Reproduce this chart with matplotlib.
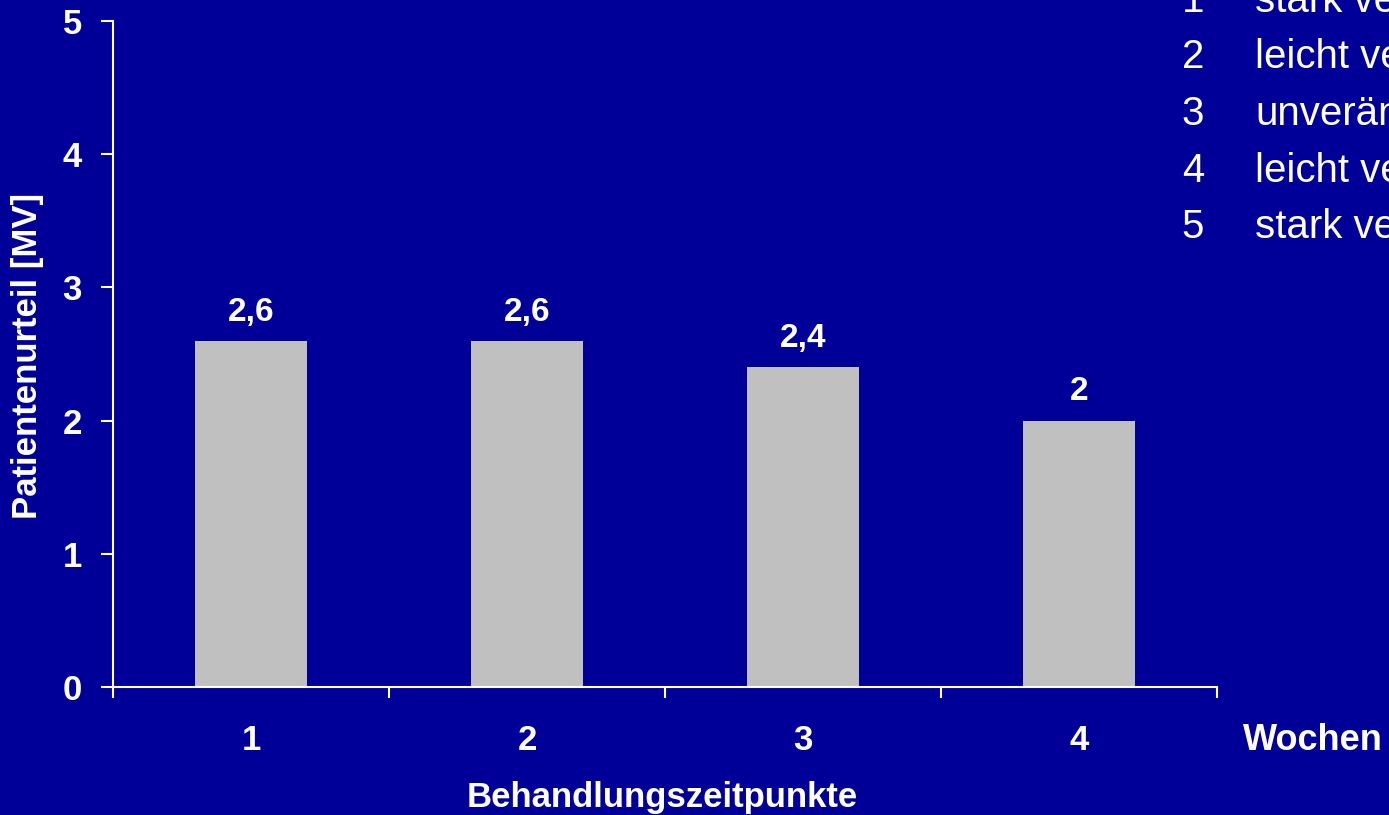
import matplotlib
matplotlib.use("Agg")
import matplotlib.pyplot as plt
from matplotlib.ticker import FixedLocator

categories = ["1", "2", "3", "4"]
values = [2.6, 2.6, 2.4, 2.0]
value_labels = ["2,6", "2,6", "2,4", "2"]
scale_nums = ["1", "2", "3", "4", "5"]
scale_texts = ["stark verbessert", "leicht verbessert", "unverändert",
               "leicht verschlechtert", "stark verschlechtert"]

BG = "#000099"
plt.rcParams['font.family'] = ['Liberation Sans', 'DejaVu Sans']
FS = 25

fig = plt.figure(figsize=(13.89, 8.15), dpi=100, facecolor=BG)
ax = fig.add_axes([113/1389, 1-687/815, (1217-113)/1389, (687-21)/815])
ax.set_facecolor(BG)

x = list(range(1, len(categories) + 1))
ax.bar(x, values, width=0.405, color="#C0C0C0", zorder=2)
for xi, v, lab in zip(x, values, value_labels):
    ax.annotate(lab, (xi, v), xytext=(0, 14.5), textcoords="offset points",
                ha="center", va="baseline", color="white", fontsize=24, fontweight="bold")

ax.set_xlim(0.5, len(categories) + 0.5)
ax.set_ylim(0, 5)
ax.set_yticks([0, 1, 2, 3, 4, 5])
ax.set_yticklabels([str(i) for i in range(6)])
ax.set_xticks(x)
ax.set_xticklabels(categories)
ax.xaxis.set_minor_locator(FixedLocator([i + 0.5 for i in range(0, len(categories) + 1)]))
ax.tick_params(axis="x", which="major", length=0, pad=27, labelsize=FS, labelcolor="white")
ax.tick_params(axis="x", which="minor", length=8, width=1.5, color="white", direction="out")
ax.tick_params(axis="y", length=9, width=1.5, color="white", pad=13.5, labelsize=FS, labelcolor="white")
for lab in ax.get_xticklabels() + ax.get_yticklabels():
    lab.set_fontweight("bold")

for s in ["top", "right"]:
    ax.spines[s].set_visible(False)
for s in ["left", "bottom"]:
    ax.spines[s].set_color("white")
    ax.spines[s].set_linewidth(1.5)

fig.text(28/1389, 1 - 356/815, "Patientenurteil [MV]", rotation=90, ha="center", va="center",
         color="white", fontsize=FS, fontweight="bold")
fig.text(662/1389, 1 - 807/815, "Behandlungszeitpunkte", ha="center", va="baseline",
         color="white", fontsize=FS, fontweight="bold")
fig.text(1243/1389, 1 - 750/815, "Wochen", ha="left", va="baseline",
         color="white", fontsize=26, fontweight="bold")

ys = [12, 68, 125, 182, 238]
for n, t, yy in zip(scale_nums, scale_texts, ys):
    fig.text(1193/1389, 1 - yy/815, n, ha="center", va="baseline", color="white", fontsize=29)
    fig.text(1255/1389, 1 - yy/815, t, ha="left", va="baseline", color="white", fontsize=29)

fig.savefig("out.png", dpi=100, facecolor=BG)
